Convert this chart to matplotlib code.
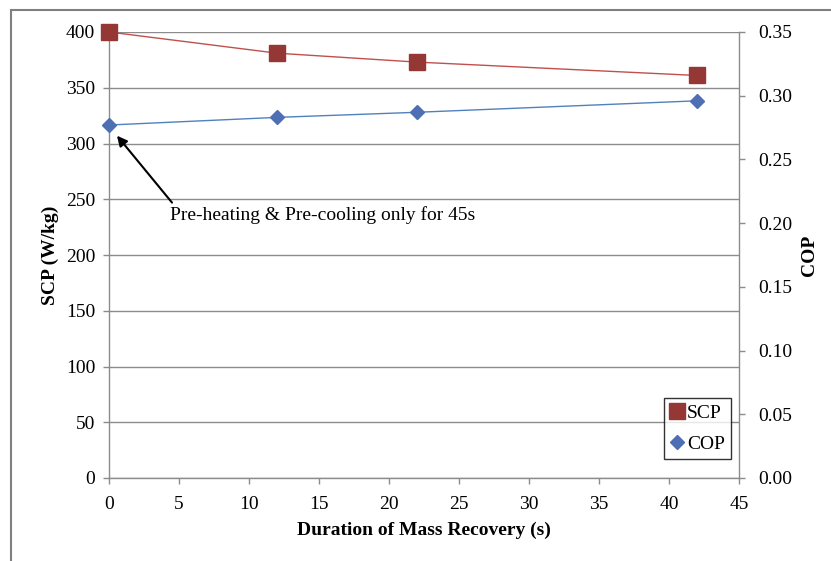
import matplotlib
matplotlib.use("Agg")
import matplotlib.pyplot as plt
from matplotlib.lines import Line2D
from matplotlib.patches import Rectangle
from matplotlib.ticker import FormatStrFormatter, MultipleLocator

plt.rcParams['font.family'] = ['Liberation Serif', 'DejaVu Serif']

duration = [0, 12, 22, 42]
scp = [400, 381, 373, 361]
cop = [0.277, 0.283, 0.287, 0.296]

W, H = 831, 561
fig = plt.figure(figsize=(W / 100, H / 100), dpi=100)

# outer frame
fig.patches.append(Rectangle((11 / W, -0.05), 1.0, 1 - 10 / H + 0.05,
                             transform=fig.transFigure, fill=False,
                             edgecolor='#7f7f7f', linewidth=1.5))

ax = fig.add_axes([109 / W, (H - 478) / H, 630 / W, 446 / H])
ax2 = ax.twinx()

grid_c = '#8c8c8c'
ax.set_xlim(0, 45)
ax.set_ylim(0, 400)
ax.xaxis.set_major_locator(MultipleLocator(5))
ax.yaxis.set_major_locator(MultipleLocator(50))
ax.grid(axis='y', color=grid_c, linewidth=1.0)
ax.set_axisbelow(True)

ax2.set_ylim(0, 0.35)
ax2.yaxis.set_major_locator(MultipleLocator(0.05))
ax2.yaxis.set_major_formatter(FormatStrFormatter('%.2f'))

for a in (ax, ax2):
    for s in a.spines.values():
        s.set_color(grid_c)
        s.set_linewidth(1.0)
    a.spines['top'].set_visible(False)
ax.spines['right'].set_visible(False)
ax2.spines['left'].set_visible(False)
ax2.spines['bottom'].set_visible(False)

ax.tick_params(axis='y', direction='out', length=4, width=1, color=grid_c,
               labelsize=14, pad=6)
ax.tick_params(axis='x', direction='out', length=4, width=1, color=grid_c,
               labelsize=14, pad=9)
ax2.tick_params(axis='y', direction='out', length=4, width=1, color=grid_c,
                labelsize=14, pad=10)

ax.plot(duration, scp, color='#c0504d', linewidth=1.0, marker='s',
        markersize=11, markerfacecolor='#953735', markeredgecolor='#953735',
        zorder=5, clip_on=False)
ax2.plot(duration, cop, color='#4f81bd', linewidth=1.0, marker='D',
         markersize=6.8, markerfacecolor='#4f6fb4', markeredgecolor='#4f6fb4',
         zorder=5, clip_on=False)

ax.set_ylabel('SCP (W/kg)', fontsize=14, fontweight='bold', labelpad=5)
ax.set_xlabel('Duration of Mass Recovery (s)', fontsize=14, fontweight='bold', labelpad=6)
ax2.set_ylabel('COP', fontsize=14, fontweight='bold', labelpad=6)

ax.annotate('', xy=(0.57, 307), xytext=(4.5, 247),
            arrowprops=dict(arrowstyle='-|>', color='black', lw=1.5,
                            mutation_scale=15, shrinkA=0, shrinkB=0))
ax.text(4.35, 236, 'Pre-heating & Pre-cooling only for 45s', fontsize=14,
        va='center', ha='left')

handles = [Line2D([], [], linestyle='none', marker='s', markersize=11,
                  markerfacecolor='#953735', markeredgecolor='#953735'),
           Line2D([], [], linestyle='none', marker='D', markersize=6.8,
                  markerfacecolor='#4f6fb4', markeredgecolor='#4f6fb4')]
leg = ax2.legend(handles, ['SCP', 'COP'], loc='lower right',
                 bbox_to_anchor=(0.987, 0.043), fontsize=14, frameon=True,
                 fancybox=False, edgecolor='black', handlelength=0.8,
                 handletextpad=0.1, borderpad=0.3, labelspacing=0.7,
                 borderaxespad=0)
leg.get_frame().set_linewidth(1.0)

fig.savefig('out.png', dpi=100)
